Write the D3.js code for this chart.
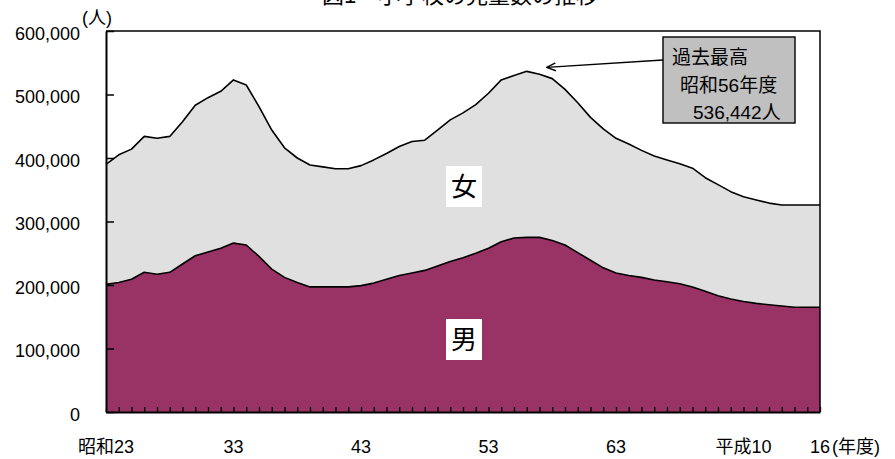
<!DOCTYPE html>
<html>
<head>
<meta charset="utf-8">
<script src="https://cdn.jsdelivr.net/npm/d3@7"></script>
<style>
  body { margin: 0; background: #fff; }
  text { font-family: "Liberation Sans", Arial, "Noto Sans CJK JP", sans-serif; fill: #000; }
</style>
</head>
<body>
<div id="chart"></div>
<script>
// 年度 (昭和23 .. 平成16)
const categories = d3.range(23, 64).map(y => "昭和" + y)
  .concat(d3.range(1, 17).map(y => "平成" + y));

// 男子児童数
const male = [
  201000, 204000, 209000, 220000, 217000, 220000, 233000, 246000, 252000, 258000,
  266000, 263000, 245000, 225000, 212000, 204000, 197000, 197000, 197000, 197000,
  199000, 203000, 209000, 215000, 219000, 223000, 230000, 237000, 243000, 250000,
  258000, 268000, 274000, 275000, 275000, 270000, 263000, 251000, 239000, 227000,
  219000, 215000, 212000, 208000, 205000, 202000, 197000, 190000, 183000, 178000,
  174000, 171000, 169000, 167000, 165000, 165000, 165000
];

// 女子児童数
const female = [
  189000, 201000, 205000, 214000, 214000, 214000, 224000, 237000, 243000, 247000,
  257000, 252000, 236000, 219000, 204000, 196000, 192000, 189000, 186000, 186000,
  189000, 194000, 198000, 203000, 207000, 205000, 214000, 223000, 228000, 234000,
  244000, 255000, 256000, 261442, 257000, 255000, 245000, 236000, 225000, 219000,
  212000, 207000, 200000, 195000, 192000, 189000, 187000, 179000, 175000, 169000,
  165000, 163000, 160000, 159000, 161000, 161000, 161000
];

const tickCats = ["昭和23", "昭和33", "昭和43", "昭和53", "昭和63", "平成10", "平成16"];
const tickText = ["昭和23", "33", "43", "53", "63", "平成10", "16"];
const yTicks = [0, 100000, 200000, 300000, 400000, 500000, 600000];

const W = 895, H = 459;
const pLeft = 106, pRight = 820, pTop = 31, pBottom = 412;

const svg = d3.select("#chart").append("svg").attr("width", W).attr("height", H);

const x = d3.scalePoint().domain(categories).range([pLeft, pRight]);
const y = d3.scaleLinear().domain([0, 600000]).range([pBottom, pTop]);

const rows = categories.map((c, i) => ({ cat: c, male: male[i], female: female[i] }));
const series = d3.stack().keys(["male", "female"])(rows);
const fills = { male: "#993366", female: "#e0e0e0" };

const area = d3.area()
  .x(d => x(d.data.cat))
  .y0(d => y(d[0]))
  .y1(d => y(d[1]));
const line = d3.line()
  .x(d => x(d.data.cat))
  .y(d => y(d[1]));

svg.selectAll("path.area").data(series).enter().append("path")
  .attr("class", "area")
  .attr("fill", d => fills[d.key])
  .attr("d", area);

svg.selectAll("path.edge").data(series).enter().append("path")
  .attr("class", "edge")
  .attr("fill", "none")
  .attr("stroke", "#000")
  .attr("stroke-width", 1.6)
  .attr("stroke-linejoin", "round")
  .attr("d", line);

// plot border (top, right)
svg.append("path")
  .attr("d", `M${pLeft},${pTop}H${pRight}V${pBottom}`)
  .attr("fill", "none").attr("stroke", "#000").attr("stroke-width", 1.5);

// y axis
const yAxis = svg.append("g")
  .attr("transform", `translate(${pLeft},0)`)
  .call(d3.axisLeft(y).tickValues(yTicks).tickFormat(d3.format(","))
    .tickSizeInner(-8).tickSizeOuter(0).tickPadding(26));
yAxis.select(".domain").attr("stroke", "#000").attr("stroke-width", 2);
yAxis.selectAll(".tick line").attr("stroke", "#000").attr("stroke-width", 1.5);
yAxis.selectAll(".tick text").attr("font-size", 18).attr("dy", "0.45em")
  .style("font-family", "'Liberation Sans', Arial, sans-serif");

// x axis: small tick at every year, labels every 10
const xAxis = svg.append("g")
  .attr("transform", `translate(0,${pBottom})`)
  .call(d3.axisBottom(x).tickValues(categories).tickFormat("")
    .tickSizeInner(-5).tickSizeOuter(0));
xAxis.select(".domain").attr("stroke", "#000").attr("stroke-width", 2);
xAxis.selectAll(".tick line").attr("stroke", "#000").attr("stroke-width", 1.3);

svg.append("g").selectAll("text").data(tickCats).enter().append("text")
  .attr("x", d => x(d))
  .attr("y", 453)
  .attr("text-anchor", "middle")
  .attr("font-size", 18)
  .text((d, i) => tickText[i]);
svg.append("text")
  .attr("x", x("平成16") + 12).attr("y", 453)
  .attr("font-size", 18).text("(年度)");

// unit
svg.append("text").attr("x", 82).attr("y", 24).attr("font-size", 18).text("(人)");

// title (partly cut off at top, as in the source)
svg.append("text").attr("x", 460).attr("y", 3).attr("text-anchor", "middle")
  .attr("font-size", 22).text("図1　小学校の児童数の推移");

// series labels
function seriesLabel(cx, cy, t) {
  svg.append("rect").attr("x", cx - 18).attr("y", cy - 21).attr("width", 36).attr("height", 41)
    .attr("fill", "#fff");
  svg.append("text").attr("x", cx).attr("y", cy + 9).attr("text-anchor", "middle")
    .attr("font-size", 26).text(t);
}
seriesLabel(464, 187, "女");
seriesLabel(464, 340, "男");

// peak callout
const peakCat = "昭和56";
const peakVal = male[categories.indexOf(peakCat)] + female[categories.indexOf(peakCat)];
svg.append("defs").append("marker")
  .attr("id", "arr").attr("viewBox", "0 0 10 10").attr("refX", 9).attr("refY", 5)
  .attr("markerWidth", 10).attr("markerHeight", 10).attr("orient", "auto")
  .attr("markerUnits", "userSpaceOnUse")
  .append("path").attr("d", "M0,1L9,5L0,9").attr("fill", "none").attr("stroke", "#000").attr("stroke-width", 1.4);
svg.append("line")
  .attr("x1", 663).attr("y1", 60)
  .attr("x2", x(peakCat) + 20).attr("y2", y(peakVal) - 4)
  .attr("stroke", "#000").attr("stroke-width", 1.4)
  .attr("marker-end", "url(#arr)");

svg.append("rect").attr("x", 663).attr("y", 37).attr("width", 132).attr("height", 86)
  .attr("fill", "#c0c0c0").attr("stroke", "#000").attr("stroke-width", 1.4);
svg.append("text").attr("x", 672).attr("y", 64).attr("font-size", 19).text("過去最高");
svg.append("text").attr("x", 680).attr("y", 92).attr("font-size", 19).text("昭和56年度");
svg.append("text").attr("x", 693).attr("y", 119).attr("font-size", 19)
  .text(d3.format(",")(peakVal) + "人");
</script>
</body>
</html>
